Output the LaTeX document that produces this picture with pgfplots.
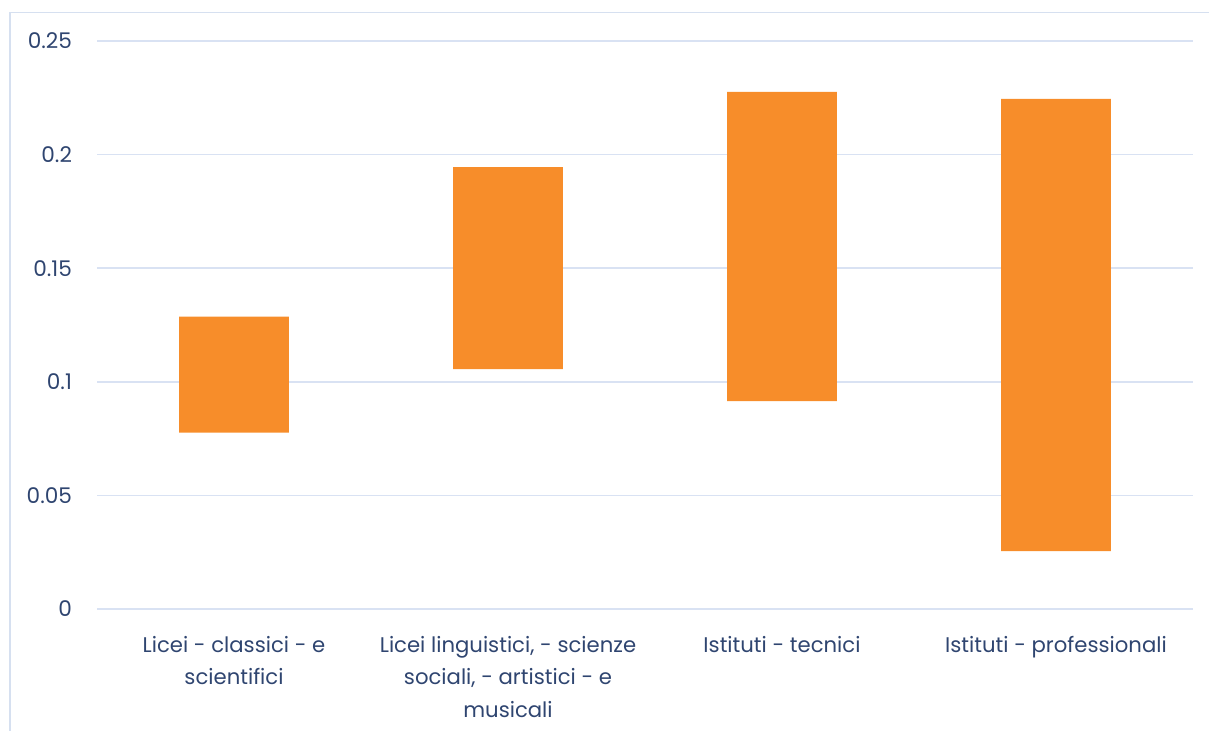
\documentclass[border=0pt]{standalone}
\usepackage{fontspec}
\setmainfont{Poppins}
\usepackage{pgfplots}
\pgfplotsset{compat=1.18}
\definecolor{barc}{HTML}{F78D2A}
\definecolor{gridc}{HTML}{D9E2F3}
\definecolor{framec}{HTML}{D6E0F0}
\definecolor{txtc}{HTML}{2F4570}
\begin{document}
\begin{tikzpicture}
\path[use as bounding box] (0,0) rectangle (604.5pt,365.5pt);
\draw[framec, line width=0.8pt] (4.9pt,-1pt) -- (4.9pt,359.3pt) -- (606pt,359.3pt);
\begin{axis}[
  at={(48.5pt,61pt)}, anchor=south west,
  scale only axis, width=548pt, height=284pt,
  xmin=-0.5, xmax=3.5, ymin=0, ymax=0.25,
  axis line style={draw=none},
  major tick length=0pt,
  xmajorgrids=false, ymajorgrids=true,
  major grid style={draw=gridc, line width=0.8pt},
  ytick={0,0.05,0.1,0.15,0.2,0.25},
  yticklabels={0,0.05,0.1,0.15,0.2,0.25},
  xtick={0,1,2,3},
  xticklabels={{Licei - classici - e\\scientifici},{Licei linguistici, - scienze\\sociali, - artistici - e\\musicali},{Istituti - tecnici},{Istituti - professionali}},
  xticklabel style={align=center, font=\fontsize{10.6}{16.25}\selectfont, text=txtc, anchor=north, yshift=-10pt},
  yticklabel style={font=\fontsize{10.8}{13}\selectfont, text=txtc, anchor=east, xshift=-9pt},
  ybar stacked, bar width=0.4,
  clip=false,
]
\addplot[draw=none, fill=none] coordinates {(0,0.0776) (1,0.1056) (2,0.0915) (3,0.0255)};
\addplot[draw=none, fill=barc] coordinates {(0,0.0511) (1,0.0889) (2,0.1361) (3,0.1990)};
\end{axis}
\end{tikzpicture}
\end{document}
